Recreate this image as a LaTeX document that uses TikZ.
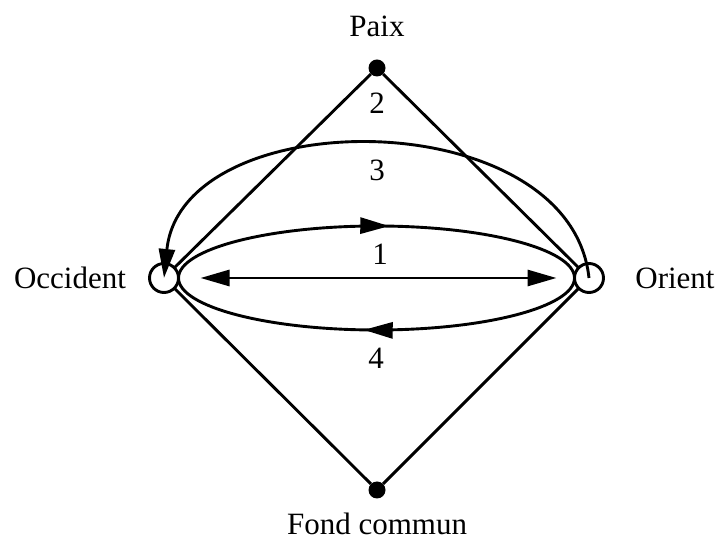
\documentclass[tikz,border=0pt]{standalone}
\usepackage{fontspec}
\setmainfont{Liberation Serif}
\usepackage{tikz}
\usetikzlibrary{arrows.meta,positioning,decorations.markings}

\begin{document}
\begin{tikzpicture}[
  x=1pt, y=1pt, line width=2.9pt,
  font=\fontsize{31}{36}\selectfont,
  >={Triangle[length=29pt, width=16pt]},
  pole/.style={draw, circle, minimum size=29pt, inner sep=0pt, outer sep=0pt},
  dot/.style={fill, circle, minimum size=17pt, inner sep=0pt, outer sep=0pt},
  midarrow/.style={postaction={decorate},
    decoration={markings, mark=at position 0.53 with {\arrow{>}}}}
]
\useasboundingbox (0,0) rectangle (718,546);

% ---------- POLES ----------
\node[pole] (occ) at (164,268) {};
\node[pole] (ori) at (589,268) {};
\node[dot] (paix) at (377,478) {};
\node[dot] (fond) at (377,56) {};

\node (tocc) at (70,268) {Occident};
\node (tori) at (675,268) {Orient};
\node (tpaix) at (377,520) {Paix};
\node (tfond) at (377,22) {Fond commun};

% ---------- LINKS ----------
\draw (paix) -- (occ);
\draw (paix) -- (ori);
\draw (fond) -- (occ);
\draw (fond) -- (ori);

\draw[->] (ori.center) .. controls (570,445) and (182,445) .. (occ.center);
\draw[midarrow] (occ.east) arc[start angle=180, end angle=0, x radius=198, y radius=52];
\draw[midarrow] (ori.west) arc[start angle=0, end angle=-180, x radius=198, y radius=52];
\draw[<->, shorten <=22pt, shorten >=18pt] (occ.east) -- (ori.west);

% ---------- NUMBERS ----------
\node (l2) at (377,443) {2};
\node (l3) at (377,376) {3};
\node (l1) at (380,292) {1};
\node (l4) at (376,188) {4};

\end{tikzpicture}
\end{document}
